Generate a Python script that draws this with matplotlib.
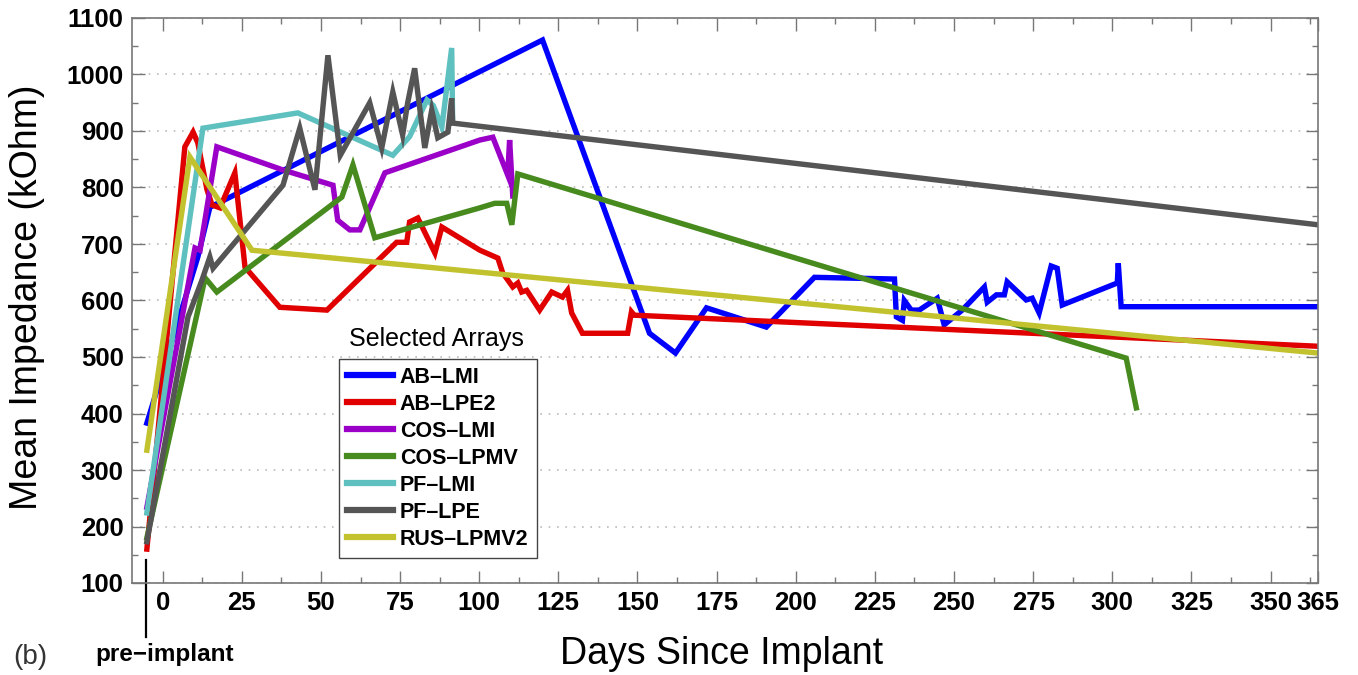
import numpy as np
import matplotlib
matplotlib.use('Agg')
import matplotlib.pyplot as plt
from matplotlib.ticker import MultipleLocator
import matplotlib.transforms as mtransforms

plt.rcParams['font.family'] = ['Liberation Sans', 'DejaVu Sans']

# ======================= data (days, mean impedance kOhm) =======================
ab_lmi_days = [-5, 11.1, 14.9, 120, 153.8, 162, 171.8, 190.7, 205.9, 231.2, 231.8, 233.7, 234.3,
               236.5, 239, 244.7, 246.9, 252.6, 259.6, 260.5, 263.4, 265.9, 266.8, 272.8, 274.7,
               276.9, 280.7, 282.6, 284.2, 301.6, 301.9, 302.8, 365]
ab_lmi_vals = [383, 677, 765, 1061, 542, 507, 587, 553, 641, 638, 571, 565, 600,
               583, 583, 604, 557, 583, 624, 597, 610, 610, 633, 601, 604,
               578, 661, 657, 592, 631, 666, 589, 589]

ab_lpe2_days = [-5, 7, 9.6, 11.1, 14, 15.6, 18.1, 22.8, 26, 37, 51.9, 73.9, 77.1, 78, 80.6, 86,
                88.2, 100.2, 105.9, 107.4, 110.6, 112.2, 113.4, 115, 119.1, 122.9, 126.3, 127.9,
                129.2, 132.6, 146.9, 148.1, 149, 365]
ab_lpe2_vals = [160, 872, 898, 879, 796, 769, 764, 826, 659, 588, 583, 703, 703, 739, 746, 684,
                730, 689, 675, 649, 624, 631, 615, 618, 583, 615, 606, 618,
                578, 542, 542, 580, 574, 519]

cos_lmi_days = [-5, 10.2, 11.8, 17.1, 38, 53.8, 55.3, 59.1, 62.3, 70.2, 100.2, 104.3, 109, 109.6, 110.6]
cos_lmi_vals = [234, 693, 689, 872, 831, 804, 742, 725, 725, 826, 884, 889, 822, 884, 785]

cos_lpmv_days = [-5, 13.4, 17.1, 56.6, 60.1, 67, 100.2, 104.9, 108.7, 110.3, 112.2, 304.4, 307.6]
cos_lpmv_vals = [180, 640, 615, 783, 840, 711, 764, 772, 772, 734, 824, 498, 410]

pf_lmi_days = [-5, 12.7, 42.7, 72.7, 78, 83.5, 85.5, 88.2, 91.3, 91.6]
pf_lmi_vals = [224, 905, 932, 857, 890, 955, 945, 907, 1047, 915]

pf_lpe_days = [-5, 8, 12.4, 14.9, 15.9, 38, 43.3, 48.1, 52.2, 56.1, 65.4, 69.2, 72.7, 75.8, 77.4,
               79.6, 82.8, 85, 86.9, 90.1, 91.3, 91.6, 365]
pf_lpe_vals = [173, 571, 636, 677, 657, 804, 905, 796, 1034, 857, 950, 870, 969, 893, 950,
               1011, 870, 937, 888, 898, 958, 914, 734]

rus_lpmv2_days = [-5, 8.6, 28.2, 365]
rus_lpmv2_vals = [335, 854, 689, 507]

names = ['AB\u2013LMI', 'AB\u2013LPE2', 'COS\u2013LMI', 'COS\u2013LPMV', 'PF\u2013LMI', 'PF\u2013LPE', 'RUS\u2013LPMV2']
colors = ['#0000ff', '#e00000', '#9a00c8', '#478a1e', '#5fc0c0', '#555555', '#c2c22e']
x_ticks = [0, 25, 50, 75, 100, 125, 150, 175, 200, 225, 250, 275, 300, 325, 350, 365]
pre_implant_day = -5.3

series = [(ab_lmi_days, ab_lmi_vals), (ab_lpe2_days, ab_lpe2_vals), (cos_lmi_days, cos_lmi_vals),
          (cos_lpmv_days, cos_lpmv_vals), (pf_lmi_days, pf_lmi_vals), (pf_lpe_days, pf_lpe_vals),
          (rus_lpmv2_days, rus_lpmv2_vals)]

fig = plt.figure(figsize=(13.58, 6.75), dpi=100)
ax = fig.add_axes([132 / 1358, 1 - 583 / 675, 1186 / 1358, 565 / 675])

for (d, v), name, col in zip(series, names, colors):
    ax.plot(d, v, color=col, lw=3.9, label=name, solid_joinstyle='miter')

ax.set_xlim(-9.7, 365)
ax.set_ylim(100, 1100)
ax.set_xticks(x_ticks)
ax.xaxis.set_minor_locator(MultipleLocator(12.5))
ax.yaxis.set_major_locator(MultipleLocator(100))
ax.yaxis.set_minor_locator(MultipleLocator(50))
ax.tick_params(which='both', direction='in', top=True, right=True, color='#777777')
ax.tick_params(which='major', length=9, width=1, labelsize=18.5, pad=6)
ax.tick_params(which='minor', length=4.5, width=1)
for lab in ax.get_xticklabels() + ax.get_yticklabels():
    lab.set_fontweight('bold')
for s in ax.spines.values():
    s.set_color('#777777')
    s.set_linewidth(1.2)
ax.yaxis.grid(True, linestyle=(0, (1, 4)), color='#bbbbbb', lw=1.2)
ax.set_axisbelow(True)

leg = ax.legend(loc='lower left', bbox_to_anchor=(0.1745, 0.044), borderaxespad=0,
                prop={'weight': 'bold', 'size': 15.5}, handlelength=2.15, handletextpad=0.3,
                labelspacing=0.28, borderpad=0.38, fancybox=False, framealpha=1)
leg.get_frame().set_edgecolor('#444444')
leg.get_frame().set_linewidth(1.0)
for h in leg.get_lines():
    h.set_linewidth(4.5)
ax.text(0.183, 0.432, 'Selected Arrays', transform=ax.transAxes, fontsize=18, va='center', ha='left')

# pre-implant marker below the axis
trans = mtransforms.blended_transform_factory(ax.transData, ax.transAxes)
ax.plot([pre_implant_day, pre_implant_day], [0.041, -0.096], color='black', lw=1.6,
        transform=trans, clip_on=False)
ax.text(0.6, -0.127, 'pre\u2212implant', transform=trans, fontsize=17.5, fontweight='bold',
        ha='center', va='center')

fig.text(27 / 1358, 1 - 297 / 675, 'Mean Impedance (kOhm)', rotation=90, fontsize=27,
         ha='center', va='center')
fig.text(722 / 1358, 1 - 654 / 675, 'Days Since Implant', fontsize=27, ha='center', va='center')
fig.text(30 / 1358, 1 - 657 / 675, '(b)', fontsize=20, ha='center', va='center', color='#333333')

plt.savefig('out.png', dpi=100)
